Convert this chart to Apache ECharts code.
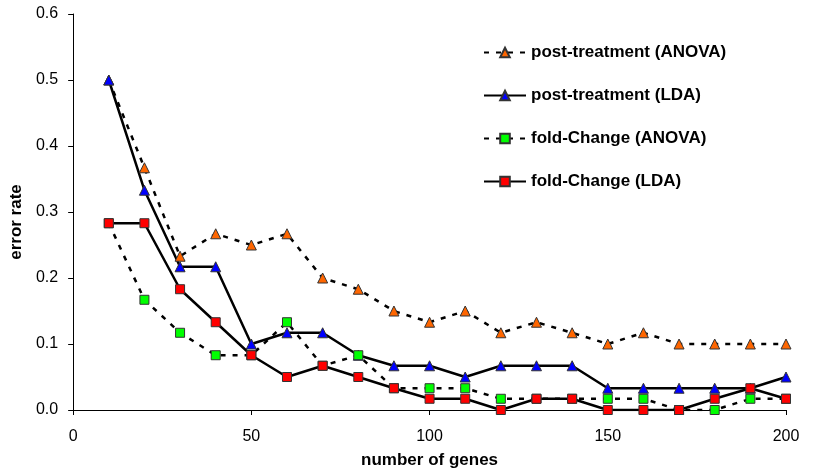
<!DOCTYPE html>
<html><head><meta charset="utf-8">
<script src="https://cdn.jsdelivr.net/npm/echarts@6/dist/echarts.min.js"></script>
<style>html,body{margin:0;padding:0;background:#fff}#c{width:815px;height:474px}</style>
</head><body><div id="c"></div>
<script>
const genes = [10,20,30,40,50,60,70,80,90,100,110,120,130,140,150,160,170,180,190,200];
const postAnova = [0.5,0.367,0.233,0.267,0.25,0.267,0.2,0.183,0.15,0.133,0.15,0.117,0.133,0.117,0.1,0.117,0.1,0.1,0.1,0.1];
const postLda = [0.5,0.333,0.217,0.217,0.1,0.117,0.117,0.083,0.067,0.067,0.05,0.067,0.067,0.067,0.033,0.033,0.033,0.033,0.033,0.05];
const foldAnova = [0.283,0.167,0.117,0.083,0.083,0.133,0.067,0.083,0.033,0.033,0.033,0.017,0.017,0.017,0.017,0.017,0,0,0.017,0.017];
const foldLda = [0.283,0.283,0.183,0.133,0.083,0.05,0.067,0.05,0.033,0.017,0.017,0,0.017,0.017,0,0,0,0.017,0.033,0.017];
const xTicks = [0,50,100,150,200];
const yTicks = [0,0.1,0.2,0.3,0.4,0.5,0.6];

const FONT = '"Liberation Sans", Arial, sans-serif';
function pairs(v){ return genes.map((g,i)=>[g,v[i]]); }
function mk(name, vals, dashed, symbol, color, size){
  return {
    name, type:'line', data:pairs(vals), symbol, symbolSize:size,
    lineStyle:{color:'#000', width:2.5, type: dashed ? [5,7] : 'solid'},
    itemStyle:{color, borderColor:'#333', borderWidth:1},
    emphasis:{disabled:true}, animation:false
  };
}
const chart = echarts.init(document.getElementById('c'));
chart.setOption({
  animation:false,
  grid:{left:72, right:29, top:14, bottom:64},
  legend:{
    orient:'vertical', left:478, top:39, itemWidth:42, itemHeight:12, itemGap:26,
    textStyle:{fontFamily:FONT, fontWeight:'bold', fontSize:17, color:'#000'},
    data:['post-treatment (ANOVA)','post-treatment (LDA)','fold-Change (ANOVA)','fold-Change (LDA)']
  },
  xAxis:{
    type:'value', min:xTicks[0], max:xTicks[xTicks.length-1], interval:50,
    name:'number of genes', nameLocation:'middle', nameGap:42,
    nameTextStyle:{fontFamily:FONT, fontWeight:'bold', fontSize:17, color:'#000'},
    axisLine:{lineStyle:{color:'#000'}}, axisTick:{show:true, length:5, lineStyle:{color:'#000'}},
    axisLabel:{fontFamily:FONT, fontSize:16, color:'#000', margin:19},
    splitLine:{show:false}
  },
  yAxis:{
    type:'value', min:yTicks[0], max:yTicks[yTicks.length-1], interval:0.1,
    name:'error rate', nameLocation:'middle', nameGap:47,
    nameTextStyle:{fontFamily:FONT, fontWeight:'bold', fontSize:17, color:'#000', padding:[0,20,0,0]},
    axisLine:{show:true, lineStyle:{color:'#000'}}, axisTick:{show:true, length:5, lineStyle:{color:'#000'}},
    axisLabel:{fontFamily:FONT, fontSize:16, color:'#000', margin:15, formatter:v=>v.toFixed(1)},
    splitLine:{show:false}
  },
  series:[
    mk('post-treatment (ANOVA)', postAnova, true, 'triangle', '#FF6600', 10),
    mk('post-treatment (LDA)', postLda, false, 'triangle', '#0000FF', 10),
    mk('fold-Change (ANOVA)', foldAnova, true, 'rect', '#00FF00', 9),
    mk('fold-Change (LDA)', foldLda, false, 'rect', '#FF0000', 9)
  ]
});
</script></body></html>
